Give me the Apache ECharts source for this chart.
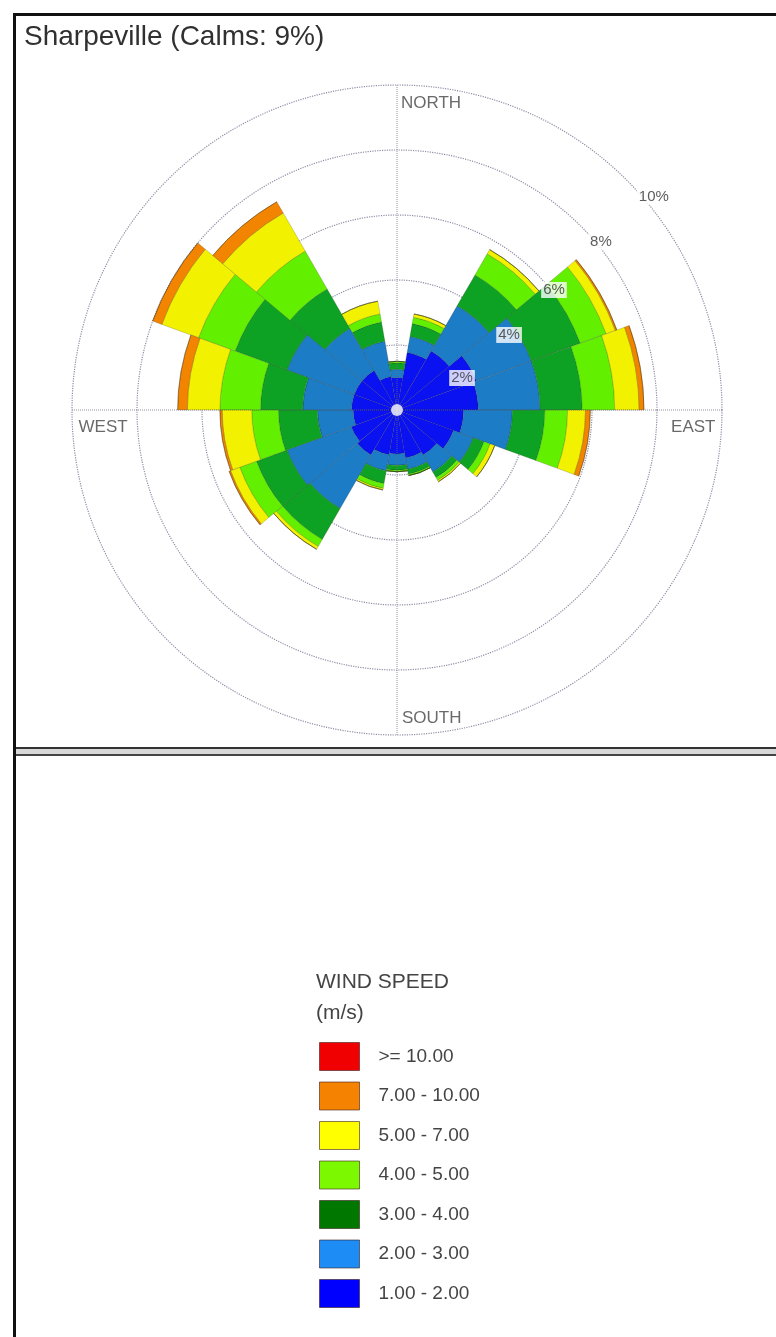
<!DOCTYPE html>
<html>
<head>
<meta charset="utf-8">
<script src="https://cdn.jsdelivr.net/npm/echarts@6/dist/echarts.min.js"></script>
<style>
  html, body { margin: 0; padding: 0; background: #ffffff; }
  #chart { width: 776px; height: 1337px; }
</style>
</head>
<body>
<div id="chart"></div>
<script>
// Direction sectors (degrees clockwise from north), 20 degrees wide
const bearings = ['0', '20', '40', '60', '80', '100', '120', '140', '160', '180',
                  '200', '220', '240', '260', '280', '300', '320', '340'];

// Frequency (%) of each wind-speed class per sector
const speed1to2  = [1.00, 1.80, 2.10, 2.60, 2.50, 2.05, 1.85, 1.60, 1.50, 1.35, 1.40, 1.60, 1.50, 1.35, 1.40, 1.40, 1.40, 1.05];
const speed2to3  = [0.25, 0.50, 1.60, 1.80, 1.90, 1.50, 0.65, 0.60, 0.35, 0.35, 0.50, 1.90, 2.10, 1.10, 1.50, 2.20, 1.50, 1.10];
const speed3to4  = [0.20, 0.40, 1.10, 1.60, 1.30, 1.00, 0.35, 0.20, 0.15, 0.15, 0.40, 1.10, 1.00, 1.20, 1.30, 1.70, 1.40, 0.60];
const speed4to5  = [0.05, 0.20, 0.75, 0.85, 1.00, 0.70, 0.20, 0.10, 0.05, 0.05, 0.15, 0.25, 0.55, 0.82, 1.25, 1.20, 1.35, 0.25];
const speed5to7  = [0.00, 0.10, 0.15, 0.30, 0.75, 0.55, 0.15, 0.05, 0.00, 0.00, 0.05, 0.10, 0.30, 0.91, 1.00, 1.20, 1.35, 0.40];
const speed7to10 = [0.00, 0.00, 0.00, 0.05, 0.15, 0.15, 0.00, 0.00, 0.00, 0.00, 0.00, 0.00, 0.05, 0.07, 0.30, 0.30, 0.40, 0.00];
const speed10up  = [0, 0, 0, 0, 0, 0, 0, 0, 0, 0, 0, 0, 0, 0, 0, 0, 0, 0];

const classNames = ['1.00 - 2.00', '2.00 - 3.00', '3.00 - 4.00', '4.00 - 5.00',
                    '5.00 - 7.00', '7.00 - 10.00', '>= 10.00'];
const classData = [speed1to2, speed2to3, speed3to4, speed4to5, speed5to7, speed7to10, speed10up];
const roseColors   = ['#0a12f2', '#1c7cc6', '#0ea224', '#62f000', '#f2f200', '#f28400', '#f00000'];
const legendColors = ['#0000ff', '#1e8cf5', '#007800', '#7cf800', '#ffff00', '#f58200', '#f00000'];

// Percentage rings and their labels
const ringTicks = [2, 4, 6, 8, 10];
const ringLabelAnchors = [[2.23, 63.8], [4.15, 56.2], [6.08, 52.6], [8.13, 50.5], [10.27, 50.3]];

// Compass labels
const compassNames = ['NORTH', 'EAST', 'SOUTH', 'WEST'];
const compassBearings = [0, 90, 180, 270];

const calmsPercent = 9;
const FONT = "'Liberation Sans', Arial, sans-serif";

const chart = echarts.init(document.getElementById('chart'), null, { renderer: 'canvas' });

const barSeries = classNames.map((name, i) => ({
  name: name,
  type: 'bar',
  coordinateSystem: 'polar',
  polarIndex: 0,
  stack: 'rose',
  barCategoryGap: '0%',
  data: classData[i],
  z: 3,
  itemStyle: {
    color: roseColors[i],
    borderColor: 'rgba(30,30,10,0.32)',
    borderWidth: 0.6
  },
  emphasis: { disabled: true }
}));

const compassLayout = {
  NORTH: { r: 9.45, align: 'left', offset: [4, 0] },
  SOUTH: { r: 9.5, align: 'left', offset: [5, 0] },
  EAST:  { r: 9.8, align: 'right', offset: [0, 17] },
  WEST:  { r: 9.8, align: 'left', offset: [0, 17] }
};

const option = {
  animation: false,
  backgroundColor: '#ffffff',
  title: [
    {
      text: 'Sharpeville (Calms: ' + calmsPercent + '%)',
      left: 19, top: 18,
      textStyle: { fontFamily: FONT, fontSize: 28, fontWeight: 'normal', color: '#303030' }
    },
    {
      text: 'WIND SPEED\n(m/s)',
      left: 311, top: 962,
      textStyle: { fontFamily: FONT, fontSize: 21, fontWeight: 'normal', color: '#444444', lineHeight: 31 }
    }
  ],
  legend: {
    orient: 'vertical',
    left: 314, top: 1037,
    itemWidth: 40, itemHeight: 28, itemGap: 10.5,
    icon: 'rect',
    selectedMode: false,
    data: classNames.map((n, i) => ({
      name: n,
      itemStyle: { color: legendColors[i], borderColor: 'rgba(60,30,30,0.6)', borderWidth: 1 }
    })).reverse(),
    textStyle: { fontFamily: FONT, fontSize: 19, color: '#444444', padding: [0, 0, 0, 14] }
  },
  polar: [
    { center: [397, 410], radius: [0, 325] },
    { center: [397, 410], radius: [0, 325] }
  ],
  angleAxis: [
    {
      polarIndex: 0, type: 'category', data: bearings,
      startAngle: 100, clockwise: true,
      axisLine: { show: false }, axisTick: { show: false },
      axisLabel: { show: false }, splitLine: { show: false }
    },
    {
      polarIndex: 1, type: 'value', min: 0, max: 360, interval: 90,
      startAngle: 90, clockwise: true, z: 6,
      axisLine: { show: false }, axisTick: { show: false },
      axisLabel: { show: false },
      splitLine: { show: true, lineStyle: { color: 'rgba(110,110,130,0.75)', type: 'dotted', width: 1 } }
    }
  ],
  radiusAxis: [
    {
      polarIndex: 0, type: 'value', min: 0, max: 10,
      axisLine: { show: false }, axisTick: { show: false },
      axisLabel: { show: false }, splitLine: { show: false }
    },
    {
      polarIndex: 1, type: 'value', min: 0, max: 10, interval: 2, z: 0,
      axisLine: { show: false }, axisTick: { show: false },
      axisLabel: { show: false },
      splitLine: { show: true, lineStyle: { color: '#8e8ea6', type: 'dotted', width: 1.2 } }
    }
  ],
  series: barSeries.concat([
    {
      // percentage ring labels
      type: 'scatter', coordinateSystem: 'polar', polarIndex: 1,
      symbolSize: 0, z: 8, silent: true, clip: false,
      data: ringTicks.map((t, i) => ({ value: ringLabelAnchors[i], name: t + '%' })),
      label: {
        show: true, position: 'inside', formatter: '{b}',
        fontFamily: FONT, fontSize: 15, color: '#333333',
        backgroundColor: '#ffffff', padding: [1, 2, 0, 2]
      }
    },
    {
      // compass point names
      type: 'scatter', coordinateSystem: 'polar', polarIndex: 1,
      symbolSize: 0, z: 8, silent: true, clip: false,
      data: compassNames.map((n, i) => ({
        value: [compassLayout[n].r, compassBearings[i]], name: n,
        label: { align: compassLayout[n].align, offset: compassLayout[n].offset }
      })),
      label: {
        show: true, position: 'inside', formatter: '{b}',
        fontFamily: FONT, fontSize: 17, color: '#444444', verticalAlign: 'middle'
      }
    },
    {
      // calm circle at the centre
      type: 'scatter', coordinateSystem: 'polar', polarIndex: 1,
      symbol: 'circle', symbolSize: 12, z: 9, silent: true,
      itemStyle: { color: '#ffffff' },
      data: [[0, 0]]
    }
  ]),
  graphic: [
    { type: 'rect', shape: { x: 13, y: 13, width: 3, height: 1324 }, style: { fill: '#111111' } },
    { type: 'rect', shape: { x: 13, y: 13, width: 763, height: 3 }, style: { fill: '#111111' } },
    { type: 'rect', shape: { x: 16, y: 747, width: 760, height: 2 }, style: { fill: '#333333' } },
    { type: 'rect', shape: { x: 16, y: 749, width: 760, height: 5 }, style: { fill: '#d8d8d8' } },
    { type: 'rect', shape: { x: 16, y: 754, width: 760, height: 2 }, style: { fill: '#444444' } }
  ]
};

chart.setOption(option);
</script>
</body>
</html>
